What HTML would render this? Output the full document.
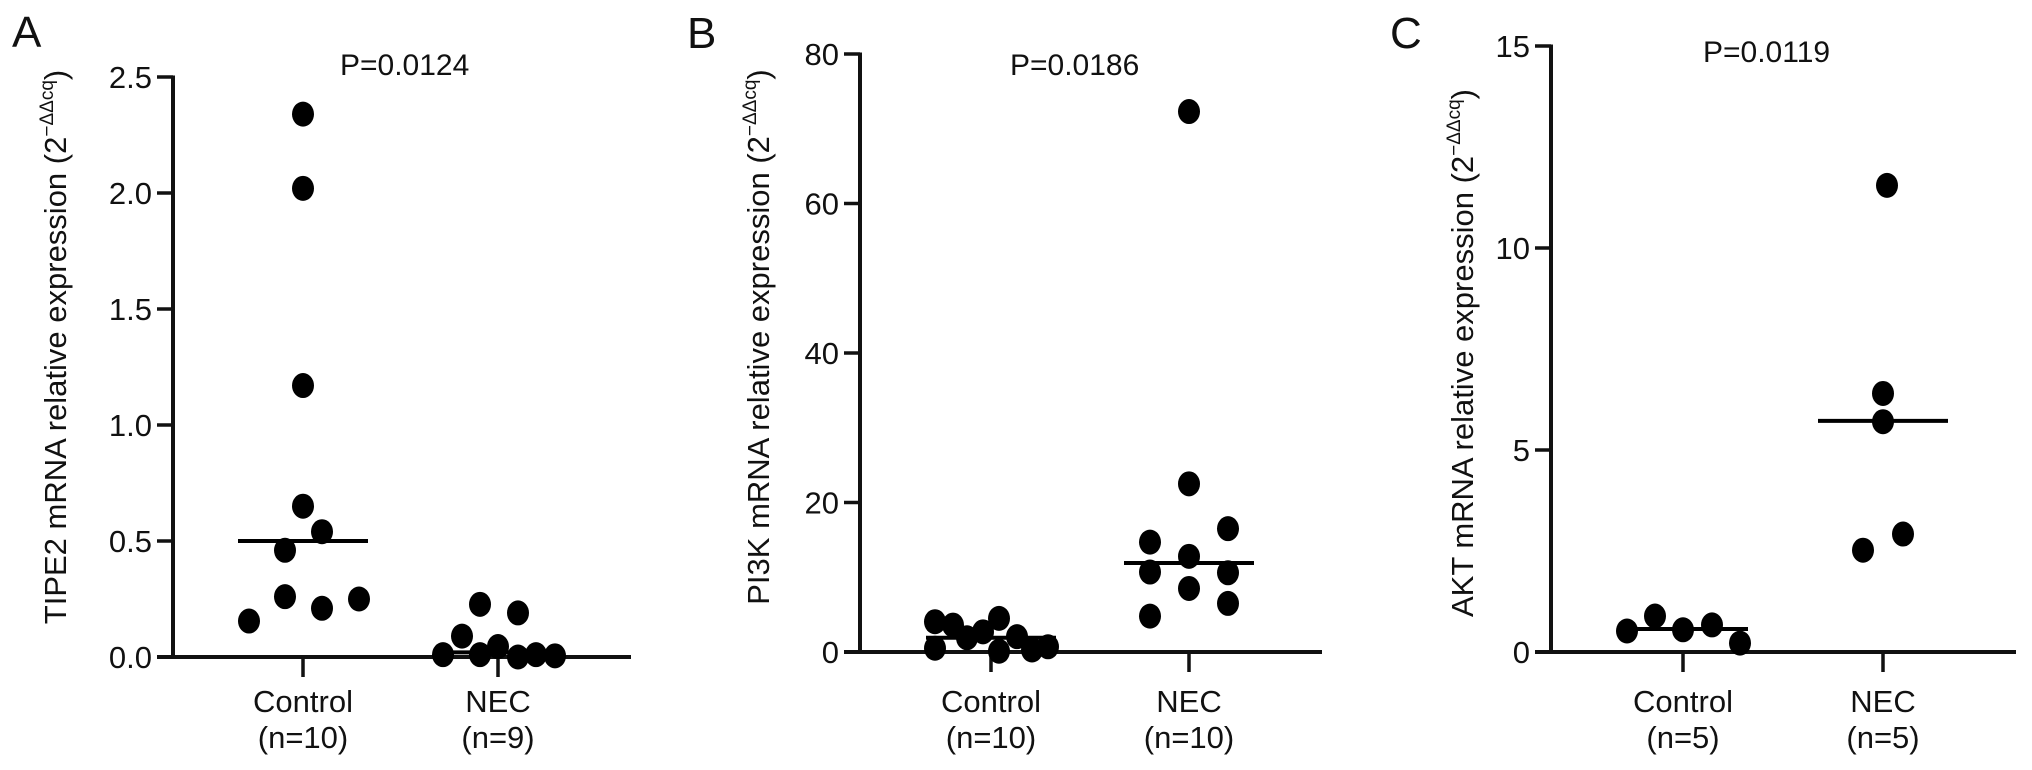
<!DOCTYPE html>
<html><head><meta charset="utf-8"><style>
html,body{margin:0;padding:0;background:#fff}
svg{display:block}
text{font-family:"Liberation Sans",Arial,sans-serif;fill:#111}
</style></head><body>
<svg id="fig" width="2032" height="770" viewBox="0 0 2032 770" xmlns="http://www.w3.org/2000/svg"></svg>
<script>
// Panel A data (TIPE2)
const categoriesA = ["Control", "NEC"];
const countsA = ["(n=10)", "(n=9)"];
const controlA = [2.34, 2.02, 1.17, 0.65, 0.54, 0.46, 0.26, 0.21, 0.25, 0.155];
const necA = [0.01, 0.09, 0.227, 0.01, 0.045, 0.19, 0.0, 0.01, 0.005];
const mediansA = [0.5, 0.02];
const ticksA = [0, 0.5, 1.0, 1.5, 2.0, 2.5];
const tickLabelsA = ["0.0", "0.5", "1.0", "1.5", "2.0", "2.5"];
// Panel B data (PI3K)
const categoriesB = ["Control", "NEC"];
const countsB = ["(n=10)", "(n=10)"];
const controlB = [4.05, 3.6, 1.9, 2.7, 4.5, 2.05, 0.5, 0.1, 0.27, 0.7];
const necB = [72.3, 22.5, 16.5, 14.7, 12.8, 10.7, 10.6, 8.5, 6.5, 4.8];
const mediansB = [1.9, 11.9];
const ticksB = [0, 20, 40, 60, 80];
const tickLabelsB = ["0", "20", "40", "60", "80"];
// Panel C data (AKT)
const categoriesC = ["Control", "NEC"];
const countsC = ["(n=5)", "(n=5)"];
const controlC = [0.52, 0.89, 0.55, 0.67, 0.22];
const necC = [11.55, 6.4, 5.7, 2.92, 2.52];
const mediansC = [0.57, 5.72];
const ticksC = [0, 5, 10, 15];
const tickLabelsC = ["0", "5", "10", "15"];

const NS = "http://www.w3.org/2000/svg";
const fig = document.getElementById("fig");
function mk(tag, attrs, parent) {
  const e = document.createElementNS(NS, tag);
  for (const k in attrs) e.setAttribute(k, attrs[k]);
  (parent || fig).appendChild(e);
  return e;
}

function panel(cfg) {
  const g = mk("g", {});
  
  
  const yScale = v => cfg.y0 - (v - cfg.ymin) / (cfg.ymax - cfg.ymin) * (cfg.y0 - cfg.yTop);
  const xCat = i => cfg.cx[i];

  const L = mk("text", {x: cfg.letterX, y: cfg.letterY, "font-size": 44}, g);
  L.textContent = cfg.letter;
  
  

  const ya = mk("line", {x1: cfg.ax, x2: cfg.ax, y1: yScale(cfg.ymax) - 1.5, y2: cfg.y0 + 2, stroke: "#111", "stroke-width": 4}, g);
  
  
  cfg.ticks.forEach((t, i) => {
    const y = yScale(t);
    const tk = mk("line", {x1: cfg.ax - 16, x2: cfg.ax, y1: y, y2: y, stroke: "#111", "stroke-width": 3.5}, g);
    
    
    const tl = mk("text", {x: cfg.ax - 21, y: y + 11, "font-size": 31, "text-anchor": "end"}, g);
    tl.textContent = cfg.tickLabels[i];
    
    
  });
  const xa = mk("line", {x1: cfg.ax - 16, x2: cfg.xEnd, y1: cfg.y0, y2: cfg.y0, stroke: "#111", "stroke-width": 4}, g);
  
  
  cfg.categories.forEach((c, i) => {
    const x = xCat(i);
    const tk = mk("line", {x1: x, x2: x, y1: cfg.y0, y2: cfg.y0 + 20, stroke: "#111", "stroke-width": 3.5}, g);
    
    
    const t1 = mk("text", {x: x, y: 712, "font-size": 31, "text-anchor": "middle"}, g);
    t1.textContent = c;
    
    
    const t2 = mk("text", {x: x, y: 748, "font-size": 31, "text-anchor": "middle"}, g);
    t2.textContent = cfg.counts[i];
    
    
  });
  const yt = mk("text", {x: 0, y: 0, "font-size": 31, "text-anchor": "middle",
    transform: `translate(${cfg.titleX},${cfg.titleY}) rotate(-90)`}, g);
  
  
  const s1 = mk("tspan", {}, yt); s1.textContent = cfg.title + " (2";
  const s2 = mk("tspan", {"font-size": 19, dy: -13}, yt); s2.textContent = "−ΔΔcq";
  const s3 = mk("tspan", {dy: 13}, yt); s3.textContent = ")";
  const p = mk("text", {x: cfg.pX, y: cfg.pY, "font-size": 30}, g);
  p.textContent = cfg.p;
  
  

  [cfg.control, cfg.nec].forEach((vals, gi) => {
    vals.forEach((v, j) => {
      const d = mk("ellipse", {cx: xCat(gi) + cfg.jitter[gi][j], cy: yScale(v), rx: 11, ry: 12.5, fill: "#000"}, g);
      
      
    });
  });
  cfg.medians.forEach((m, i) => {
    const y = yScale(m);
    const ml = mk("line", {x1: xCat(i) - 65, x2: xCat(i) + 65, y1: y, y2: y, stroke: "#000", "stroke-width": 4}, g);
    
    
  });
}

panel({name: "panel-a-tipe2", letter: "A", letterX: 12, letterY: 47,
  ax: 173, y0: 657, yTop: 77, ymin: 0, ymax: 2.5, xEnd: 631, cx: [303, 498],
  ticks: ticksA, tickLabels: tickLabelsA, categories: categoriesA, counts: countsA,
  control: controlA, nec: necA, medians: mediansA,
  jitter: [[0, 0, 0, 0, 19, -18, -18, 19, 56, -54], [-55, -36, -18, -18, 0, 20, 20, 38, 57]],
  title: "TIPE2 mRNA relative expression", titleX: 66, titleY: 347,
  p: "P=0.0124", pX: 340, pY: 75});

panel({name: "panel-b-pi3k", letter: "B", letterX: 687, letterY: 48,
  ax: 860, y0: 652, yTop: 54, ymin: 0, ymax: 80, xEnd: 1322, cx: [991, 1189],
  ticks: ticksB, tickLabels: tickLabelsB, categories: categoriesB, counts: countsB,
  control: controlB, nec: necB, medians: mediansB,
  jitter: [[-56, -38, -24, -8, 8, 26, -56, 8, 41, 57], [0, 0, 39, -39, 0, -39, 39, 0, 39, -39]],
  title: "PI3K mRNA relative expression", titleX: 769, titleY: 337,
  p: "P=0.0186", pX: 1010, pY: 75});

panel({name: "panel-c-akt", letter: "C", letterX: 1390, letterY: 48,
  ax: 1551, y0: 652, yTop: 46, ymin: 0, ymax: 15, xEnd: 2016, cx: [1683, 1883],
  ticks: ticksC, tickLabels: tickLabelsC, categories: categoriesC, counts: countsC,
  control: controlC, nec: necC, medians: mediansC,
  jitter: [[-56, -28, 0, 29, 57], [4, 0, 0, 20, -20]],
  title: "AKT mRNA relative expression", titleX: 1473, titleY: 353,
  p: "P=0.0119", pX: 1703, pY: 62});
</script>
</body></html>
